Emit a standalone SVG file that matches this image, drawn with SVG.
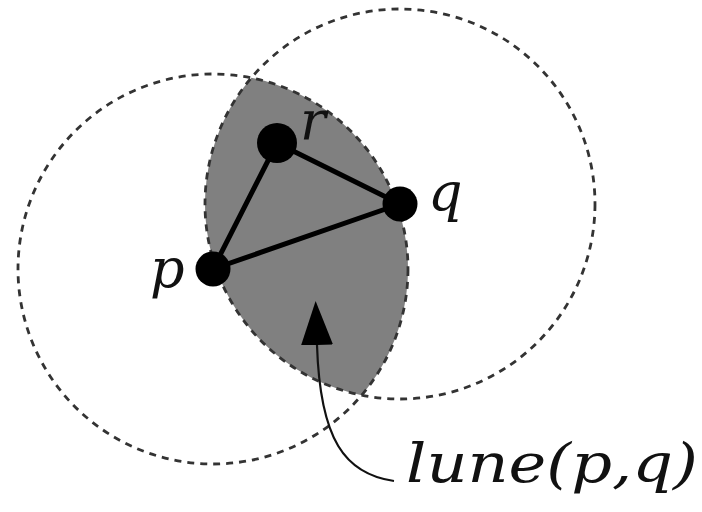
<svg xmlns="http://www.w3.org/2000/svg" width="702" height="512" viewBox="0 0 702 512">
<style>
.circ{fill:none;stroke:#333;stroke-width:2.8;stroke-dasharray:7 6}
.lune{fill:#808080;stroke:none}
.edge{stroke:#000;stroke-width:5;fill:none;stroke-linecap:round}
.dot{fill:#000}
.lbl{font-style:italic;fill:#111}
.ptr{fill:none;stroke:#111;stroke-width:2.2}
</style>
<defs>
<marker id="ah" viewBox="0 0 44 32" refX="0" refY="16" markerWidth="44" markerHeight="32" markerUnits="userSpaceOnUse" orient="auto">
<path d="M0,0 L44,16 L0,32 z" fill="#000"/>
</marker>
</defs>
<rect width="702" height="512" fill="#fff"/>
<g id="lune">
<path class="lune" d="M251.4,77.8 A195,195 0 0 1 361.6,395.2 A195,195 0 0 1 251.4,77.8 Z"/>
</g>
<g id="circles">
<circle class="circ" cx="213" cy="269" r="195"/>
<circle class="circ" cx="400" cy="204" r="195"/>
</g>
<g id="connectors">
<line class="edge" x1="213" y1="269" x2="277" y2="143"/>
<line class="edge" x1="277" y1="143" x2="400" y2="204"/>
<line class="edge" x1="213" y1="269" x2="400" y2="204"/>
<path class="ptr" d="M394,481 C345,474 320,440 317,345" marker-end="url(#ah)"/>
</g>
<g id="node-p">
<circle class="dot" cx="213" cy="269" r="17.5"/>
<text class="lbl" x="150" y="287" font-size="54" font-family="DejaVu Serif, serif">p</text>
</g>
<g id="node-q">
<circle class="dot" cx="400" cy="204" r="17.5"/>
<text class="lbl" x="428" y="211" font-size="54" font-family="DejaVu Serif, serif">q</text>
</g>
<g id="node-r">
<circle class="dot" cx="277" cy="143" r="20"/>
<text class="lbl" x="300" y="139" font-size="54" font-family="DejaVu Serif, serif">r</text>
</g>
<g id="label-lune">
<text class="lbl" x="406" y="482" font-size="54" font-family="DejaVu Serif, serif" textLength="292" lengthAdjust="spacingAndGlyphs">lune(p,q)</text>
</g>
</svg>
